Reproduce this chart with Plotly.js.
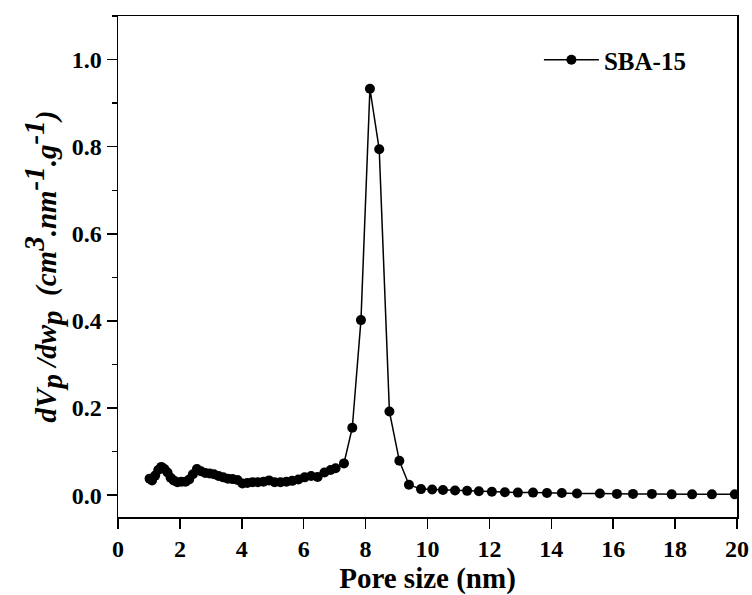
<!DOCTYPE html>
<html>
<head>
<meta charset="utf-8">
<script src="https://cdn.plot.ly/plotly-3.0.1.min.js"></script>
<style>
  html, body { margin: 0; padding: 0; background: #fff; }
  #chart { width: 752px; height: 595px; }
</style>
</head>
<body>
<div id="chart"></div>
<script>
// Pore size distribution of SBA-15 (BJH)
const poreSize = [
  1.02, 1.10, 1.20, 1.30, 1.40, 1.50, 1.60, 1.70, 1.80, 1.92,
  2.05, 2.18, 2.30, 2.42, 2.55, 2.68, 2.82, 2.96, 3.10, 3.25,
  3.40, 3.55, 3.70, 3.86, 4.02, 4.18, 4.35, 4.52, 4.70, 4.88,
  5.06, 5.25, 5.44, 5.63, 5.83, 6.03, 6.24, 6.45, 6.67, 6.87,
  7.03, 7.30, 7.57, 7.85, 8.14, 8.44, 8.77, 9.09, 9.40, 9.79,
  10.15, 10.50, 10.89, 11.28, 11.66, 12.08, 12.50, 12.92, 13.41, 13.86,
  14.34, 14.83, 15.57, 16.12, 16.64, 17.25, 17.89, 18.55, 19.19, 19.93
];
const dVdw = [
  0.038, 0.034, 0.045, 0.058, 0.065, 0.060, 0.052, 0.040, 0.034, 0.030,
  0.031, 0.031, 0.036, 0.048, 0.060, 0.055, 0.051, 0.050, 0.048, 0.044,
  0.041, 0.038, 0.037, 0.035, 0.027, 0.028, 0.030, 0.030, 0.031, 0.034,
  0.030, 0.030, 0.031, 0.033, 0.036, 0.041, 0.044, 0.042, 0.052, 0.058,
  0.062, 0.073, 0.155, 0.402, 0.933, 0.794, 0.192, 0.079, 0.024, 0.014,
  0.013, 0.012, 0.011, 0.010, 0.009, 0.008, 0.007, 0.006, 0.006, 0.005,
  0.005, 0.004, 0.004, 0.003, 0.003, 0.003, 0.002, 0.002, 0.002, 0.002
];
const seriesName = 'SBA-15';

const serif = 'Liberation Serif, DejaVu Serif, serif';

// full-size sub/superscripts for the y-axis label
const big = s => '<span style="font-size:29px">' + s + '</span>';
const yTitle = '<b><i>dV<sub>' + big('p') + '</sub> /dw<sub>' + big('p') + '</sub>  (cm<sup>' + big('3') +
  '</sup>.nm<sup>' + big('-1') + '</sup>.g<sup>' + big('-1') + '</sup>)</i></b>';

const trace = {
  x: poreSize,
  y: dVdw,
  name: '<b>' + seriesName + '</b>',
  type: 'scatter',
  mode: 'lines+markers',
  line: { color: '#000', width: 1.5 },
  marker: { color: '#000', size: 10, symbol: 'circle' }
};

const tickFont = { family: serif, size: 24, color: '#000', weight: 700 };

const layout = {
  width: 752,
  height: 595,
  margin: { l: 118, r: 15, t: 16, b: 78 },
  paper_bgcolor: '#fff',
  plot_bgcolor: '#fff',
  showlegend: true,
  legend: {
    x: 0.68, y: 0.958, xanchor: 'left', yanchor: 'top',
    bgcolor: 'rgba(0,0,0,0)',
    font: { family: serif, size: 25, color: '#000' },
    itemwidth: 55
  },
  xaxis: {
    range: [0, 20],
    dtick: 2, tick0: 0,
    ticks: 'outside', ticklen: 10, tickwidth: 1.5, tickcolor: '#000',
    showline: true, linecolor: '#000', linewidth: 1.5, mirror: true,
    showgrid: false, zeroline: false,
    tickfont: tickFont,
    title: { text: '<b>Pore size (nm)</b>', font: { family: serif, size: 29, color: '#000' }, standoff: 4 }
  },
  yaxis: {
    range: [-0.05, 1.1],
    dtick: 0.2, tick0: 0, tickformat: '.1f',
    ticks: 'outside', ticklen: 10, tickwidth: 1.5, tickcolor: '#000',
    minor: { dtick: 0.1, ticks: 'outside', ticklen: 5, tickwidth: 1.5, tickcolor: '#000' },
    showline: true, linecolor: '#000', linewidth: 1.5, mirror: true,
    showgrid: false, zeroline: false,
    tickfont: tickFont,
    title: {
      text: yTitle,
      font: { family: serif, size: 29, color: '#000' },
      standoff: 6
    }
  }
};

Plotly.newPlot('chart', [trace], layout, { displayModeBar: false, staticPlot: true });
</script>
</body>
</html>
